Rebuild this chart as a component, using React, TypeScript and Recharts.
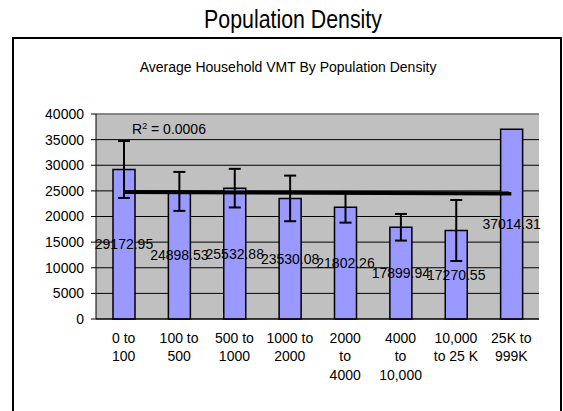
import React from 'react';
import {
  ComposedChart,
  Bar,
  Line,
  XAxis,
  YAxis,
  CartesianGrid,
  ErrorBar,
  LabelList,
  ReferenceLine,
} from 'recharts';

const CATEGORIES = [
  '0 to\n100',
  '100 to\n500',
  '500 to\n1000',
  '1000 to\n2000',
  '2000\nto\n4000',
  '4000\nto\n10,000',
  '10,000\nto 25 K',
  '25K to\n999K',
];
const VMT = [29172.95, 24898.53, 25532.88, 23530.08, 21802.26, 17899.94, 17270.55, 37014.31];
const ERRORS = [5550, 3800, 3770, 4450, 3000, 2600, 5950, 0];
// linear trend, read at first and last category
const TREND = [24800, null, null, null, null, null, null, 24500];
const Y_TICKS = [0, 5000, 10000, 15000, 20000, 25000, 30000, 35000, 40000];
const BOUNDARY_TICKS = [0, 1, 2, 3, 4, 5, 6, 7, 8];

const FONT = '"Liberation Sans", Arial, sans-serif';

const data = CATEGORIES.map((name, i) => ({
  name,
  value: VMT[i],
  err: ERRORS[i],
  trend: TREND[i],
}));

function CategoryTick({ x, y, payload }: any) {
  const lines = String(payload.value).split('\n');
  return (
    <text x={x} y={y} textAnchor='middle' fontSize={14} fill='#000' fontFamily={FONT}>
      {lines.map((l, i) => (
        <tspan key={i} x={x} dy={i === 0 ? 10 : 18.3}>
          {l}
        </tspan>
      ))}
    </text>
  );
}

export default function App() {
  return (
    <div
      style={{
        position: 'absolute',
        left: 0,
        top: 0,
        width: 563,
        height: 411,
        background: '#fff',
        overflow: 'hidden',
        fontFamily: FONT,
      }}
    >
      {/* outer frame */}
      <div
        style={{
          position: 'absolute',
          left: 12,
          top: 37,
          width: 546,
          height: 420,
          border: '2px solid #000',
        }}
      />
      <div
        style={{
          position: 'absolute',
          left: 143,
          top: 4,
          width: 300,
          height: 30,
          lineHeight: '30px',
          textAlign: 'center',
          whiteSpace: 'nowrap',
          fontSize: 26,
          transform: 'scaleX(0.82)',
          color: '#000',
        }}
      >
        Population Density
      </div>
      <div
        style={{
          position: 'absolute',
          left: 188,
          top: 59,
          width: 200,
          height: 16,
          lineHeight: '16px',
          whiteSpace: 'nowrap',
          display: 'flex',
          justifyContent: 'center',
          fontSize: 14,
          color: '#000',
        }}
      >
        Average Household VMT By Population Density
      </div>

      <div style={{ position: 'absolute', left: 0, top: 0 }}>
        <ComposedChart
          width={563}
          height={411}
          data={data}
          margin={{ top: 114, right: 24, left: 0, bottom: 22 }}
          barSize={22}
          style={{ fontFamily: FONT }}
        >
          <CartesianGrid
            xAxisId='a'
            vertical={false}
            stroke='#000'
            fill='#C0C0C0'
            fillOpacity={1}
          />
          <XAxis
            xAxisId='b'
            type='number'
            domain={[0, 8]}
            ticks={BOUNDARY_TICKS}
            height={0}
            tickSize={5}
            axisLine={{ stroke: '#000' }}
            tickLine={{ stroke: '#000' }}
            tick={() => <g />}
          />
          <XAxis
            xAxisId='a'
            dataKey='name'
            height={70}
            interval={0}
            tickLine={false}
            axisLine={{ stroke: '#000' }}
            tickSize={5}
            tickMargin={9}
            tick={<CategoryTick />}
          />
          <YAxis
            width={96}
            domain={[0, 40000]}
            ticks={Y_TICKS}
            interval={0}
            tickSize={5}
            tickMargin={7}
            axisLine={{ stroke: '#000' }}
            tickLine={{ stroke: '#000' }}
            tick={{ fill: '#000', fontSize: 14, fontFamily: FONT }}
          />
          <ReferenceLine xAxisId='a' y={40000} stroke='#8c8c8c' strokeWidth={1.5} />
          <ReferenceLine xAxisId='b' x={8} stroke='#8c8c8c' strokeWidth={1.5} />
          <Bar
            xAxisId='a'
            dataKey='value'
            fill='#9999FF'
            stroke='#000'
            strokeWidth={1.5}
            isAnimationActive={false}
          >
            <ErrorBar dataKey='err' width={6} stroke='#000' strokeWidth={2} direction='y' />
            <LabelList
              dataKey='value'
              position='center'
              fill='#000'
              fontSize={14}
              fontFamily={FONT}
            />
          </Bar>
          <Line
            xAxisId='a'
            dataKey='trend'
            stroke='#000'
            strokeWidth={4}
            dot={false}
            connectNulls
            isAnimationActive={false}
          />
        </ComposedChart>
      </div>

      <div
        style={{
          position: 'absolute',
          left: 132,
          top: 121,
          height: 16,
          lineHeight: '16px',
          fontSize: 14,
          whiteSpace: 'nowrap',
          color: '#000',
        }}
      >
        R<sup style={{ fontSize: 9, verticalAlign: 'top', lineHeight: '10px' }}>2</sup> = 0.0006
      </div>
    </div>
  );
}
